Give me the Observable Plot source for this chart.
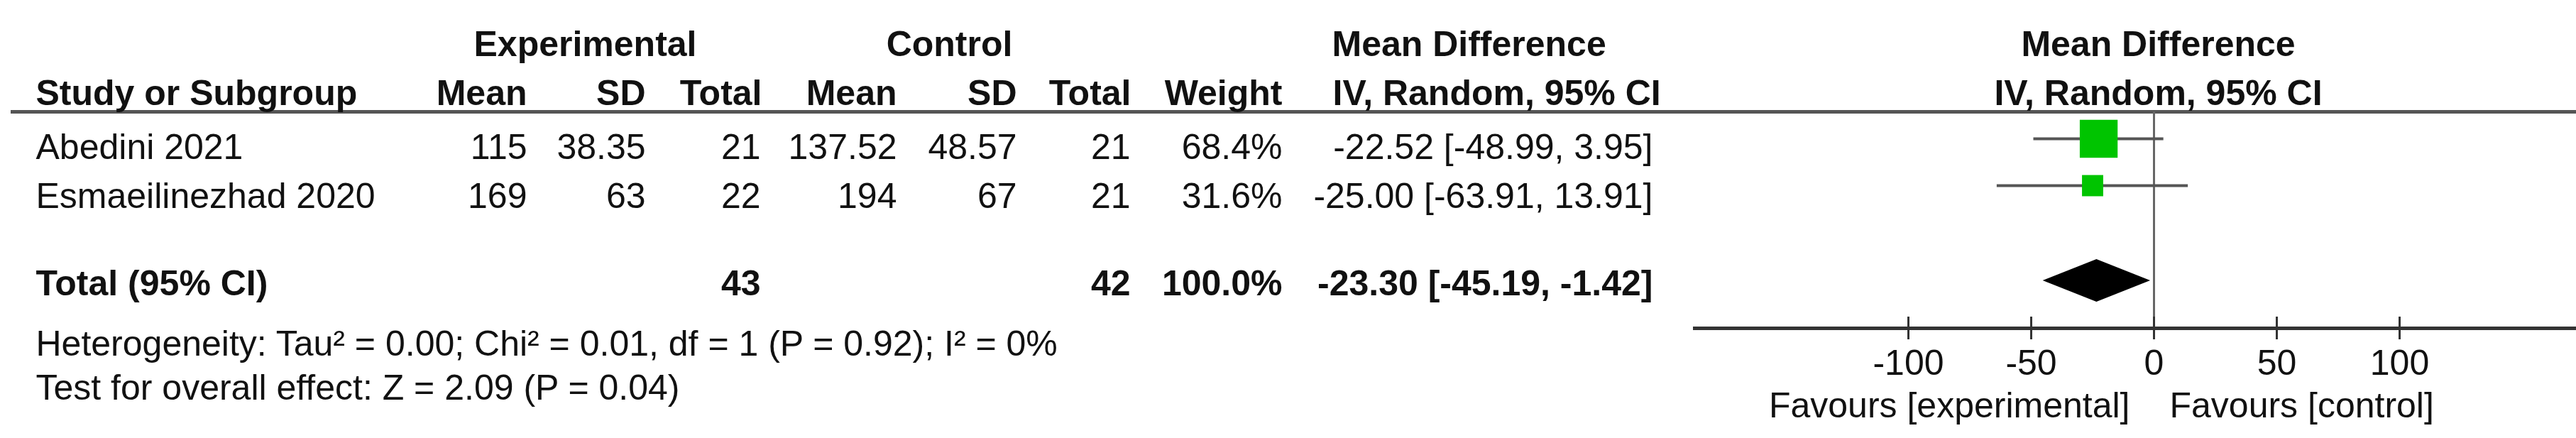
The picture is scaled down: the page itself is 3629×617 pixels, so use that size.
<!DOCTYPE html>
<html>
<head>
<meta charset="utf-8">
<script src="https://cdn.jsdelivr.net/npm/d3@7"></script>
<script src="https://cdn.jsdelivr.net/npm/@observablehq/plot@0.6"></script>
<style>
  html, body { margin: 0; padding: 0; background: #fff; }
  #chart { position: relative; width: 3629px; height: 617px; }
  #chart svg { position: absolute; left: 0; top: 0; }
</style>
</head>
<body>
<div id="chart"></div>
<script>
// ---------- data ----------
const studies   = ["Abedini 2021", "Esmaeilinezhad 2020"];
const expMean   = [115, 169];
const expSD     = [38.35, 63];
const expTotal  = [21, 22];
const ctlMean   = [137.52, 194];
const ctlSD     = [48.57, 67];
const ctlTotal  = [21, 21];
const weights   = [68.4, 31.6];
const md        = [-22.52, -25.00];
const ciLow     = [-48.99, -63.91];
const ciHigh    = [3.95, 13.91];

const totalLabel   = "Total (95% CI)";
const totalExp     = 43;
const totalCtl     = 42;
const totalWeight  = 100.0;
const totalMD      = -23.30;
const totalLow     = -45.19;
const totalHigh    = -1.42;

const heterogeneity = "Heterogeneity: Tau² = 0.00; Chi² = 0.01, df = 1 (P = 0.92); I² = 0%";
const overallTest   = "Test for overall effect: Z = 2.09 (P = 0.04)";

const groupHeaders  = ["Experimental", "Control", "Mean Difference", "Mean Difference"];
const columnHeaders = ["Study or Subgroup", "Mean", "SD", "Total", "Mean", "SD", "Total", "Weight", "IV, Random, 95% CI", "IV, Random, 95% CI"];
const tickValues    = [-100, -50, 0, 50, 100];
const favoursLeft   = "Favours [experimental]";
const favoursRight  = "Favours [control]";

// ---------- layout (pixels) ----------
const W = 3629, H = 617;
const FONT = "'Liberation Sans', Arial, Helvetica, sans-serif";
const FS = 50;
const INK = "#111";
const colX = {study: 50, expMean: 742, expSD: 909, expTotal: 1071, ctlMean: 1263, ctlSD: 1432, ctlTotal: 1592, weight: 1806, ci: 2328, ciHead: 1877, forest: 3040};
const groupLayout = [
  {x: 824, anchor: "middle"}, {x: 1337, anchor: "middle"}, {x: 1876, anchor: "start"}, {x: colX.forest, anchor: "middle"}
];
const headLayout = [
  {x: colX.study, anchor: "start"}, {x: colX.expMean, anchor: "end"}, {x: colX.expSD, anchor: "end"},
  {x: colX.expTotal + 2, anchor: "end"}, {x: colX.ctlMean, anchor: "end"}, {x: colX.ctlSD, anchor: "end"},
  {x: colX.ctlTotal + 1, anchor: "end"}, {x: colX.weight, anchor: "end"}, {x: colX.ciHead, anchor: "start"},
  {x: colX.forest, anchor: "middle"}
];
const rowY = {group: 62, head: 131, study: [207, 276], total: 399, het: 484, test: 546};
const markerY = [195, 261];
const diamondY = 395, diamondHalf = 30;
const headerRuleY = 157, axisY = 462;
const forestRange = [2688, 3380];   // pixel positions of -100 and 100

const fmt2 = v => v.toFixed(2);
const ciText = (m, lo, hi) => `${fmt2(m)} [${fmt2(lo)}, ${fmt2(hi)}]`;

// ---------- table cells ----------
const cells = [];
groupHeaders.forEach((t, i) => cells.push({t, x: groupLayout[i].x, y: rowY.group, a: groupLayout[i].anchor, w: "bold"}));
columnHeaders.forEach((t, i) => cells.push({t, x: headLayout[i].x, y: rowY.head, a: headLayout[i].anchor, w: "bold"}));
studies.forEach((s, i) => {
  const y = rowY.study[i];
  const row = [
    [s, colX.study, "start"],
    [String(expMean[i]), colX.expMean, "end"],
    [String(expSD[i]), colX.expSD, "end"],
    [String(expTotal[i]), colX.expTotal, "end"],
    [String(ctlMean[i]), colX.ctlMean, "end"],
    [String(ctlSD[i]), colX.ctlSD, "end"],
    [String(ctlTotal[i]), colX.ctlTotal, "end"],
    [weights[i].toFixed(1) + "%", colX.weight, "end"],
    [ciText(md[i], ciLow[i], ciHigh[i]), colX.ci, "end"]
  ];
  row.forEach(([t, x, a]) => cells.push({t, x, y, a, w: "normal"}));
});
[
  [totalLabel, colX.study, "start"],
  [String(totalExp), colX.expTotal, "end"],
  [String(totalCtl), colX.ctlTotal, "end"],
  [totalWeight.toFixed(1) + "%", colX.weight, "end"],
  [ciText(totalMD, totalLow, totalHigh), colX.ci, "end"]
].forEach(([t, x, a]) => cells.push({t, x, y: rowY.total, a, w: "bold"}));
cells.push({t: heterogeneity, x: colX.study, y: rowY.het, a: "start", w: "normal"});
cells.push({t: overallTest, x: colX.study, y: rowY.test, a: "start", w: "normal"});

const textMark = (data, weight) => Plot.text(data.filter(d => d.w === weight), {
  x: "x", y: "y", text: "t", textAnchor: "start", fontSize: FS, fontFamily: FONT, fontWeight: weight, fill: INK
});

const anchors = ["start", "middle", "end"];
const tableMarks = [];
for (const w of ["normal", "bold"]) for (const a of anchors) {
  const data = cells.filter(d => d.w === w && d.a === a);
  if (data.length) tableMarks.push(Plot.text(data, {x: "x", y: "y", text: "t", textAnchor: a, fontSize: FS, fontFamily: FONT, fontWeight: w, fill: INK}));
}

const table = Plot.plot({
  width: W, height: H, margin: 0,
  x: {type: "identity", axis: null},
  y: {type: "identity", axis: null},
  style: {background: "white", fontFamily: FONT},
  marks: [
    Plot.ruleY([headerRuleY], {x1: 15, x2: W, stroke: "#555", strokeWidth: 5}),
    Plot.ruleY([axisY], {x1: 2385, x2: W, stroke: "#333", strokeWidth: 5}),
    ...tableMarks
  ]
});

// ---------- forest plot ----------
const studyRows = studies.map((s, i) => ({s, md: md[i], lo: ciLow[i], hi: ciHigh[i], w: weights[i], y: markerY[i]}));
const diamond = [
  {x: totalLow,  y1: diamondY, y2: diamondY},
  {x: totalMD,   y1: diamondY - diamondHalf, y2: diamondY + diamondHalf},
  {x: totalHigh, y1: diamondY, y2: diamondY}
];

const forest = Plot.plot({
  width: W, height: H, margin: 0,
  x: {domain: [-100, 100], range: forestRange, axis: null},
  y: {type: "identity", axis: null},
  r: {type: "pow", exponent: 0.75, domain: [0, 100], range: [0, 40]},
  style: {background: "transparent", fontFamily: FONT},
  marks: [
    Plot.ruleX([0], {y1: headerRuleY, y2: axisY, stroke: "#666", strokeWidth: 3}),
    Plot.ruleX(tickValues, {y1: axisY - 16, y2: axisY + 16, stroke: "#333", strokeWidth: 3}),
    Plot.text(tickValues, {x: d => d, y: 511, text: d => String(d), fontSize: FS, fontFamily: FONT, fill: INK}),
    Plot.ruleY(studyRows, {y: "y", x1: "lo", x2: "hi", stroke: "#555", strokeWidth: 4}),
    Plot.dot(studyRows, {x: "md", y: "y", r: "w", symbol: "square", fill: "#00c400", stroke: null}),
    Plot.areaY(diamond, {x: "x", y1: "y1", y2: "y2", fill: "black"}),
    Plot.text([favoursLeft], {x: 0, y: 571, text: d => d, textAnchor: "end", dx: -34, fontSize: FS, fontFamily: FONT, fill: INK}),
    Plot.text([favoursRight], {x: 0, y: 571, text: d => d, textAnchor: "start", dx: 22, fontSize: FS, fontFamily: FONT, fill: INK})
  ]
});

const el = document.getElementById("chart");
el.appendChild(table);
el.appendChild(forest);
</script>
</body>
</html>
